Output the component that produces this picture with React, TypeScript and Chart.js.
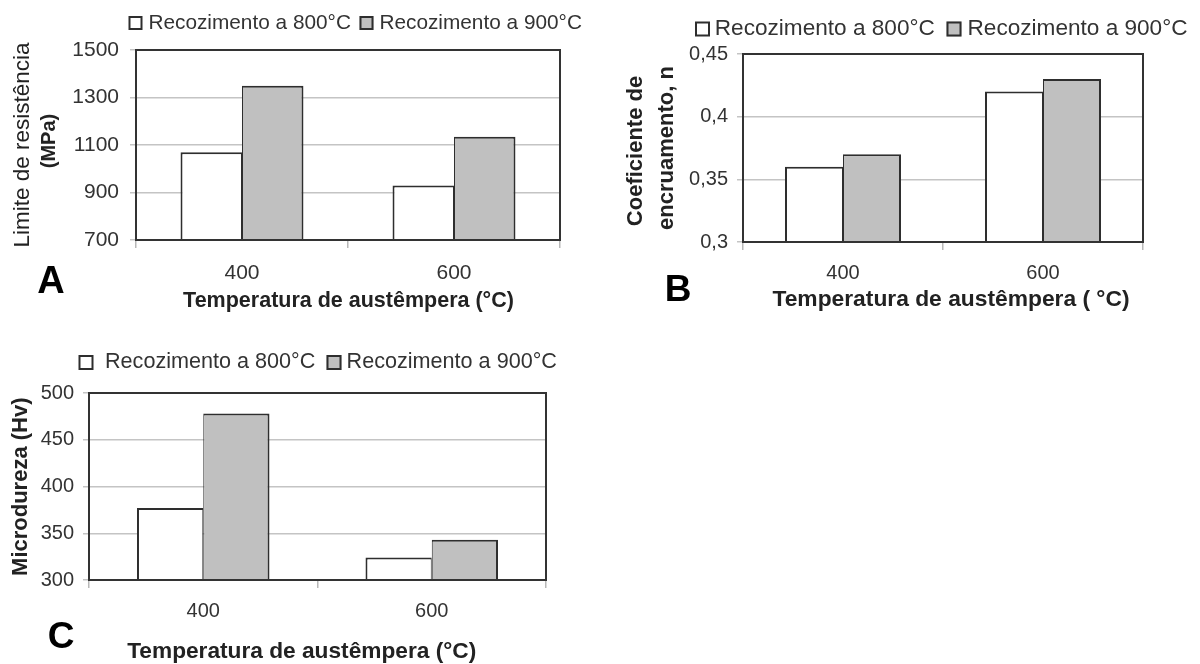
import React, { useEffect, useRef } from 'react';
import { Chart, registerables } from 'chart.js';

Chart.register(...registerables);

// ---------- data ----------
const categories = ['400', '600'];
const seriesLabels = ['Recozimento a 800°C', 'Recozimento a 900°C'];

const tensile800 = [1070, 930];
const tensile900 = [1350, 1135];

const hardening800 = [0.36, 0.42];
const hardening900 = [0.37, 0.43];

const hardness800 = [377, 324];
const hardness900 = [478, 343];

const tensileAxis = [700, 1500, 200];
const hardeningAxis = [0.3, 0.45, 0.05];
const hardnessAxis = [300, 500, 50];

// ---------- styles ----------
const FONT = '"Liberation Sans", Arial, Helvetica, sans-serif';
const FRAME = '#333333';
const BAR_EDGE = '#2e2e2e';
const GRID = '#c4c4c4';
const TICK_MARK = '#b8b8b8';
const TICK_TEXT = '#333333';
const TITLE_TEXT = '#222222';
const FILL_800 = '#ffffff';
const FILL_900 = '#c0c0c0';

interface TextItem {
  text: string;
  x: number;
  y: number;
  font: string;
  rotate?: boolean;
  color?: string;
}

interface PanelCfg {
  left: number;
  top: number;
  width: number;
  height: number;
  pad: { left: number; top: number; right: number; bottom: number };
  yWidth: number;
  xHeight: number;
  s800: number[];
  s900: number[];
  axis: number[];
  tickSize: number;
  xTickPad: number;
  yTickPad: number;
  comma?: boolean;
  legend: { y: number; size: number; box: number; items: { boxX: number; textX: number }[] };
  texts: TextItem[];
}

const bold = (s: number) => `bold ${s}px ${FONT}`;
const normal = (s: number) => `${s}px ${FONT}`;

const makeDecor = (cfg: PanelCfg) => ({
  id: 'decor',
  afterDatasetsDraw(chart: any) {
    const { ctx, chartArea: a } = chart;
    ctx.save();
    ctx.strokeStyle = FRAME;
    ctx.lineWidth = 2;
    ctx.strokeRect(a.left, a.top, a.right - a.left, a.bottom - a.top);
    ctx.restore();
  },
  afterDraw(chart: any) {
    const ctx = chart.ctx;
    ctx.save();
    const lg = cfg.legend;
    ctx.font = normal(lg.size);
    ctx.textBaseline = 'middle';
    ctx.textAlign = 'left';
    chart.data.datasets.forEach((ds: any, i: number) => {
      const it = lg.items[i];
      const y0 = lg.y - lg.box / 2;
      ctx.fillStyle = ds.backgroundColor;
      ctx.fillRect(it.boxX, y0, lg.box, lg.box);
      ctx.strokeStyle = BAR_EDGE;
      ctx.lineWidth = 2;
      ctx.strokeRect(it.boxX + 1, y0 + 1, lg.box - 2, lg.box - 2);
      ctx.fillStyle = TICK_TEXT;
      ctx.fillText(ds.label, it.textX, lg.y);
    });
    cfg.texts.forEach((t) => {
      ctx.save();
      ctx.font = t.font;
      ctx.fillStyle = t.color || TITLE_TEXT;
      ctx.textAlign = 'center';
      ctx.textBaseline = 'middle';
      ctx.translate(t.x, t.y);
      if (t.rotate) ctx.rotate(-Math.PI / 2);
      ctx.fillText(t.text, 0, 0);
      ctx.restore();
    });
    ctx.restore();
  },
});

const Panel: React.FC<{ cfg: PanelCfg }> = ({ cfg }) => {
  const ref = useRef<HTMLCanvasElement | null>(null);
  useEffect(() => {
    if (!ref.current) return;
    const [min, max, step] = cfg.axis;
    const chart = new Chart(ref.current, {
      type: 'bar',
      data: {
        labels: categories,
        datasets: [
          {
            label: seriesLabels[0],
            data: cfg.s800,
            backgroundColor: FILL_800,
            borderColor: BAR_EDGE,
            borderWidth: { top: 2, left: 2, right: 1, bottom: 0 },
          },
          {
            label: seriesLabels[1],
            data: cfg.s900,
            backgroundColor: FILL_900,
            borderColor: BAR_EDGE,
            borderWidth: { top: 2, left: 1, right: 2, bottom: 0 },
          },
        ],
      },
      options: {
        responsive: false,
        animation: false,
        layout: { padding: cfg.pad },
        datasets: { bar: { categoryPercentage: 0.58, barPercentage: 1 } },
        plugins: {
          legend: { display: false },
          tooltip: { enabled: false },
          title: { display: false },
        },
        scales: {
          x: {
            grid: {
              offset: true,
              drawOnChartArea: false,
              drawTicks: true,
              tickLength: 8,
              color: TICK_MARK,
              lineWidth: 1.5,
            },
            border: { color: FRAME, width: 2 },
            ticks: {
              font: { family: FONT, size: cfg.tickSize },
              color: TICK_TEXT,
              padding: cfg.xTickPad,
            },
            afterFit: (s: any) => {
              s.height = cfg.xHeight;
            },
          },
          y: {
            min,
            max,
            grid: { color: GRID, lineWidth: 1.5, tickLength: 6, drawTicks: true },
            border: { color: FRAME, width: 2 },
            ticks: {
              stepSize: step,
              font: { family: FONT, size: cfg.tickSize },
              color: TICK_TEXT,
              padding: cfg.yTickPad,
              callback: (v: any) => {
                const s = String(parseFloat(Number(v).toFixed(4)));
                return cfg.comma ? s.replace('.', ',') : s;
              },
            },
            afterFit: (s: any) => {
              s.width = cfg.yWidth;
            },
          },
        },
      },
      plugins: [makeDecor(cfg)],
    } as any);
    return () => chart.destroy();
  }, [cfg]);
  return (
    <div
      style={{
        position: 'absolute',
        left: cfg.left,
        top: cfg.top,
        width: cfg.width,
        height: cfg.height,
      }}
    >
      <canvas ref={ref} width={cfg.width} height={cfg.height} style={{ display: 'block' }} />
    </div>
  );
};

const panelA: PanelCfg = {
  left: 0,
  top: 0,
  width: 600,
  height: 320,
  pad: { left: 0, top: 50, right: 40, bottom: 0 },
  yWidth: 136,
  xHeight: 80,
  s800: tensile800,
  s900: tensile900,
  axis: tensileAxis,
  tickSize: 21,
  xTickPad: 13,
  yTickPad: 11,
  legend: {
    y: 23,
    size: 20.8,
    box: 14,
    items: [
      { boxX: 128.5, textX: 148.4 },
      { boxX: 359.5, textX: 379.4 },
    ],
  },
  texts: [
    { text: 'Limite de resistência', x: 22.5, y: 145, font: normal(22.5), rotate: true },
    { text: '(MPa)', x: 49, y: 141, font: bold(20), rotate: true },
    { text: 'Temperatura de austêmpera (°C)', x: 348.5, y: 301, font: bold(21.5) },
    { text: 'A', x: 51, y: 283, font: bold(38), color: '#000' },
  ],
};

const panelB: PanelCfg = {
  left: 600,
  top: 0,
  width: 600,
  height: 320,
  pad: { left: 0, top: 54, right: 57, bottom: 0 },
  yWidth: 143,
  xHeight: 78,
  s800: hardening800,
  s900: hardening900,
  axis: hardeningAxis,
  tickSize: 20,
  xTickPad: 11,
  yTickPad: 9,
  comma: true,
  legend: {
    y: 29,
    size: 22.6,
    box: 15,
    items: [
      { boxX: 95, textX: 114.8 },
      { boxX: 346.5, textX: 367.5 },
    ],
  },
  texts: [
    { text: 'Coeficiente de', x: 36, y: 151, font: bold(22), rotate: true },
    { text: 'encruamento, n', x: 67, y: 148, font: bold(22), rotate: true },
    { text: 'Temperatura de austêmpera ( °C)', x: 351, y: 300, font: bold(22.8) },
    { text: 'B', x: 78, y: 291, font: bold(37), color: '#000' },
  ],
};

const panelC: PanelCfg = {
  left: 0,
  top: 320,
  width: 600,
  height: 344,
  pad: { left: 0, top: 73, right: 54, bottom: 0 },
  yWidth: 89,
  xHeight: 84,
  s800: hardness800,
  s900: hardness900,
  axis: hardnessAxis,
  tickSize: 20,
  xTickPad: 11,
  yTickPad: 9,
  legend: {
    y: 42.5,
    size: 21.6,
    box: 15,
    items: [
      { boxX: 78.5, textX: 105 },
      { boxX: 326.5, textX: 346.6 },
    ],
  },
  texts: [
    { text: 'Microdureza (Hv)', x: 21, y: 166.7, font: bold(22), rotate: true },
    { text: 'Temperatura de austêmpera (°C)', x: 301.7, y: 332, font: bold(22.7) },
    { text: 'C', x: 61, y: 318, font: bold(37), color: '#000' },
  ],
};

export default function App() {
  return (
    <div
      style={{
        position: 'absolute',
        left: 0,
        top: 0,
        width: 1200,
        height: 664,
        background: '#ffffff',
        overflow: 'hidden',
      }}
    >
      <Panel cfg={panelA} />
      <Panel cfg={panelB} />
      <Panel cfg={panelC} />
    </div>
  );
}
